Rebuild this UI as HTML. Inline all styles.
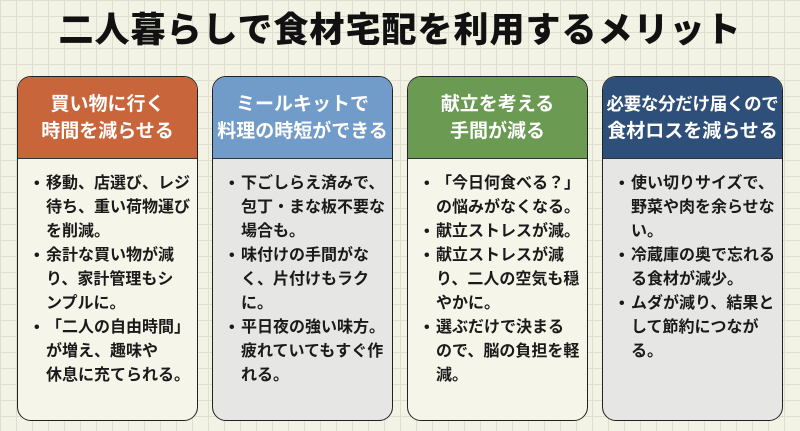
<!DOCTYPE html>
<html><head><meta charset="utf-8"><style>
body{margin:0;width:800px;height:431px;overflow:hidden;background-color:#f3f3e5;
background-image:linear-gradient(#dedfcf 1px,transparent 1px),linear-gradient(90deg,#dedfcf 1px,transparent 1px);background-size:16px 16px;
font-family:"Liberation Sans","Noto Sans CJK JP",sans-serif;position:relative}
h1{position:absolute;left:0;top:9px;width:800px;margin:0;text-align:center;font-size:35px;font-weight:900;color:#111;letter-spacing:1px;line-height:44px}
.card{position:absolute;top:76px;width:181px;height:345px;border:1.5px solid #222;border-radius:14px;overflow:hidden;box-sizing:border-box}
.hd{height:82px;border-bottom:1.5px solid #333;color:#fff;font-weight:bold;font-size:19px;text-align:center;line-height:27px;padding-top:14px;box-sizing:border-box;white-space:nowrap}
.bd{padding:13px 0 0 28px;font-size:16px;font-weight:bold;color:#1a1a1a;line-height:24px}
.bd div{position:relative;white-space:nowrap}
.bd .b:before{content:"•";position:absolute;left:-12px}
</style></head><body>
<h1>二人暮らしで食材宅配を利用するメリット</h1>
<div class="card" style="left:17px;background:#f6f5e9">
<div class="hd" style="background:#c9653b">買い物に行く<br>時間を減らせる</div>
<div class="bd"><div class="b">移動、店選び、レジ</div><div>待ち、重い荷物運び</div><div>を削減。</div><div class="b">余計な買い物が減</div><div>り、家計管理もシ</div><div>ンプルに。</div><div class="b">「二人の自由時間」</div><div>が増え、趣味や</div><div>休息に充てられる。</div></div></div>
<div class="card" style="left:212px;background:#e6e6e4">
<div class="hd" style="background:#719bc8">ミールキットで<br>料理の時短ができる</div>
<div class="bd"><div class="b">下ごしらえ済みで、</div><div>包丁・まな板不要な</div><div>場合も。</div><div class="b">味付けの手間がな</div><div>く、片付けもラク</div><div>に。</div><div class="b">平日夜の強い味方。</div><div>疲れていてもすぐ作</div><div>れる。</div></div></div>
<div class="card" style="left:407px;background:#f6f5e9">
<div class="hd" style="background:#6b9a52">献立を考える<br>手間が減る</div>
<div class="bd"><div class="b">「今日何食べる？」</div><div>の悩みがなくなる。</div><div class="b">献立ストレスが減。</div><div class="b">献立ストレスが減</div><div>り、二人の空気も穏</div><div>やかに。</div><div class="b">選ぶだけで決まる</div><div>ので、脳の負担を軽</div><div>減。</div></div></div>
<div class="card" style="left:602px;background:#e6e6e4">
<div class="hd" style="background:#2e4f79;font-size:17.5px;letter-spacing:-0.3px">必要な分だけ届くので<br><span style="font-size:19px;letter-spacing:0">食材ロスを減らせる</span></div>
<div class="bd"><div class="b">使い切りサイズで、</div><div>野菜や肉を余らせな</div><div>い。</div><div class="b">冷蔵庫の奥で忘れる</div><div>る食材が減少。</div><div class="b">ムダが減り、結果と</div><div>して節約につなが</div><div>る。</div></div></div>
</body></html>
